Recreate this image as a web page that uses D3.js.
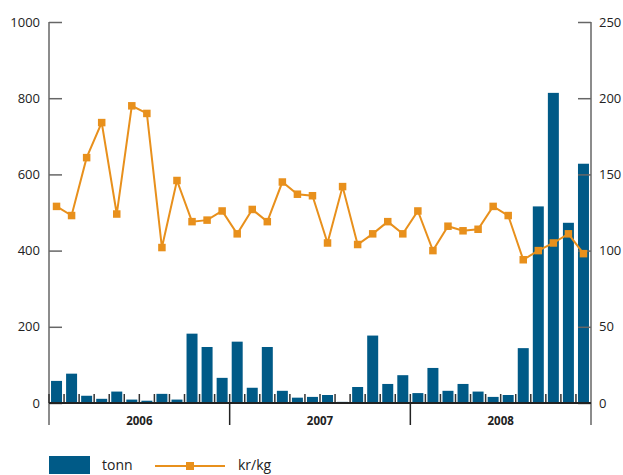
<!DOCTYPE html>
<html>
<head>
<meta charset="utf-8">
<script src="https://cdn.jsdelivr.net/npm/d3@7"></script>
<style>
  body { margin: 0; background: #fff; }
  text { font-family: "Open Sans", sans-serif; fill: #222; }
</style>
</head>
<body>
<div id="chart"></div>
<script>
var svgWidth = 623;
var svgHeight = 475;

// chart data
var years = ["2006", "2007", "2008"];
var monthNums = ["01", "02", "03", "04", "05", "06", "07", "08", "09", "10", "11", "12"];
var tonn = [58, 77, 19, 11, 30, 9, 6, 24, 9, 182, 147, 66,
            161, 40, 147, 32, 14, 16, 21, 3, 42, 177, 50, 73,
            26, 92, 32, 50, 30, 16, 21, 144, 516, 814, 473, 628];
var krkg = [129, 123, 161, 184, 124, 195, 190, 102, 146, 119, 120, 126,
            111, 127, 119, 145, 137, 136, 105, 142, 104, 111, 119, 111,
            126, 100, 116, 113, 114, 129, 123, 94, 100, 105, 111, 98];
var leftTicks = [0, 200, 400, 600, 800, 1000];
var rightTicks = [0, 50, 100, 150, 200, 250];

var months = [];
years.forEach(function(y) {
  monthNums.forEach(function(m) { months.push(y + "-" + m); });
});

var margin = { top: 22, left: 49, right: 32, bottom: 72 };
var plotRight = svgWidth - margin.right;
var base = svgHeight - margin.bottom;

var svg = d3.select("#chart").append("svg")
  .attr("width", svgWidth)
  .attr("height", svgHeight);

var x = d3.scaleBand()
  .domain(months)
  .range([margin.left, plotRight])
  .paddingInner(0.27)
  .paddingOuter(0.135);

var yLeft = d3.scaleLinear().domain([0, 1000]).range([base, margin.top]);
var yRight = d3.scaleLinear().domain([0, 250]).range([base, margin.top]);

var barColor = "#005a87";
var lineColor = "#e8901c";

// bars
svg.append("g").selectAll("rect")
  .data(tonn)
  .enter()
  .append("rect")
  .attr("x", (d, i) => x(months[i]))
  .attr("y", d => yLeft(d))
  .attr("width", x.bandwidth())
  .attr("height", d => base - yLeft(d))
  .attr("fill", barColor);

// left axis
var leftAxis = d3.axisRight(yLeft).tickValues(leftTicks).tickSize(13).tickFormat("");
var gl = svg.append("g")
  .attr("transform", `translate(${margin.left},0)`)
  .call(leftAxis);
gl.select(".domain").remove();
gl.selectAll("line").attr("stroke", "#666").attr("stroke-width", 1.5);
gl.append("line")
  .attr("x1", 0).attr("x2", 0)
  .attr("y1", margin.top).attr("y2", base + 22)
  .attr("stroke", "#666").attr("stroke-width", 1.5);
svg.append("g").selectAll("text")
  .data(leftTicks)
  .enter()
  .append("text")
  .attr("x", 40)
  .attr("y", d => yLeft(d))
  .attr("dy", "0.35em")
  .attr("text-anchor", "end")
  .attr("font-size", "13px")
  .text(d => d);

// right axis
var rightAxis = d3.axisLeft(yRight).tickValues(rightTicks).tickSize(13).tickFormat("");
var gr = svg.append("g")
  .attr("transform", `translate(${plotRight},0)`)
  .call(rightAxis);
gr.select(".domain").remove();
gr.selectAll("line").attr("stroke", "#666").attr("stroke-width", 1.5);
gr.append("line")
  .attr("x1", 0).attr("x2", 0)
  .attr("y1", margin.top).attr("y2", base + 22)
  .attr("stroke", "#666").attr("stroke-width", 1.5);
svg.append("g").selectAll("text")
  .data(rightTicks)
  .enter()
  .append("text")
  .attr("x", plotRight + 8)
  .attr("y", d => yRight(d))
  .attr("dy", "0.35em")
  .attr("text-anchor", "start")
  .attr("font-size", "13px")
  .text(d => d);

// baseline and month ticks
var gap = x.step() * x.paddingInner() / 2;
svg.append("g").selectAll("line")
  .data(months)
  .enter()
  .append("line")
  .attr("x1", d => x(d) - gap)
  .attr("x2", d => x(d) - gap)
  .attr("y1", base - 9)
  .attr("y2", base)
  .attr("stroke", "#333")
  .attr("stroke-width", 1.5);
svg.append("line")
  .attr("x1", margin.left).attr("x2", plotRight)
  .attr("y1", base).attr("y2", base)
  .attr("stroke", "#222").attr("stroke-width", 2);

// year separators and labels
years.forEach(function(y, i) {
  var first = x(y + "-01") - gap;
  var last = x(y + "-12") + x.bandwidth() + gap;
  if (i > 0) {
    svg.append("line")
      .attr("x1", first).attr("x2", first)
      .attr("y1", base).attr("y2", base + 22)
      .attr("stroke", "#222").attr("stroke-width", 1.5);
  }
  svg.append("text")
    .attr("x", (first + last) / 2)
    .attr("y", base + 22)
    .attr("text-anchor", "middle")
    .attr("font-size", "11.5px")
    .attr("font-weight", "bold")
    .text(y);
});

// price line
var line = d3.line()
  .x((d, i) => x(months[i]) + x.bandwidth() / 2)
  .y(d => yRight(d));
svg.append("path")
  .datum(krkg)
  .attr("d", line)
  .attr("fill", "none")
  .attr("stroke", lineColor)
  .attr("stroke-width", 2);
svg.append("g").selectAll("rect")
  .data(krkg)
  .enter()
  .append("rect")
  .attr("x", (d, i) => x(months[i]) + x.bandwidth() / 2 - 3.75)
  .attr("y", d => yRight(d) - 3.75)
  .attr("width", 7.5)
  .attr("height", 7.5)
  .attr("fill", lineColor);

// legend
var legend = svg.append("g");
legend.append("rect")
  .attr("x", 49).attr("y", 456)
  .attr("width", 41).attr("height", 18)
  .attr("fill", barColor);
legend.append("text")
  .attr("x", 102).attr("y", 470)
  .attr("font-size", "14px")
  .text("tonn");
legend.append("line")
  .attr("x1", 155).attr("x2", 225)
  .attr("y1", 466).attr("y2", 466)
  .attr("stroke", lineColor).attr("stroke-width", 2);
legend.append("rect")
  .attr("x", 186).attr("y", 462)
  .attr("width", 8).attr("height", 8)
  .attr("fill", lineColor);
legend.append("text")
  .attr("x", 238).attr("y", 470)
  .attr("font-size", "14px")
  .text("kr/kg");
</script>
</body>
</html>
